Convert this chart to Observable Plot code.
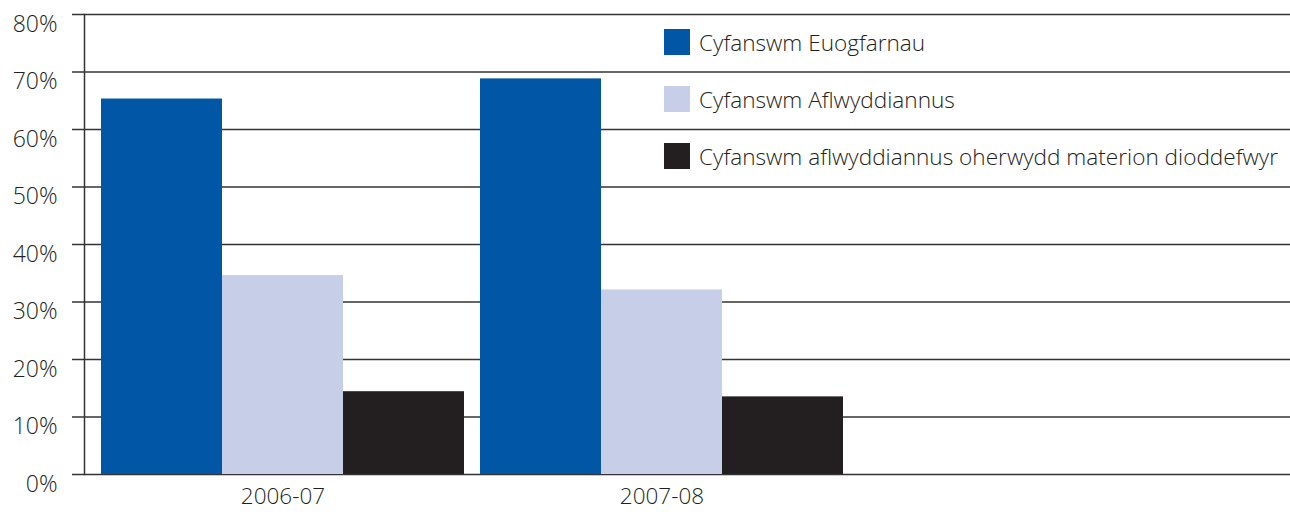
<!DOCTYPE html>
<html><head><meta charset="utf-8">
<script src="https://cdn.jsdelivr.net/npm/d3@7"></script>
<script src="https://cdn.jsdelivr.net/npm/@observablehq/plot@0.6"></script>
<style>
body{margin:0;background:#fff;font-family:"Open Sans",sans-serif;}
#wrap{position:relative;width:1290px;height:512px;overflow:hidden;}
#legend{position:absolute;left:664px;top:29px;}
.item{display:flex;align-items:center;height:26px;margin-bottom:31px;font-size:22.6px;font-weight:300;color:#231f20;white-space:nowrap;}
.sw{width:26px;height:26px;margin-right:9px;flex:none;}
svg text{font-weight:300;}
</style></head>
<body><div id="wrap"><div id="legend"></div></div>
<script>
const categories = ["2006-07", "2007-08"];
const seriesNames = [
  "Cyfanswm Euogfarnau",
  "Cyfanswm Aflwyddiannus",
  "Cyfanswm aflwyddiannus oherwydd materion dioddefwyr"
];
const euogfarnau = [65.3, 68.8];
const aflwyddiannus = [34.6, 32.1];
const dioddefwyr = [14.4, 13.5];
const colors = ["#0156a6", "#c7cfe8", "#231f20"];
const yTicks = [0, 10, 20, 30, 40, 50, 60, 70, 80];

const seriesValues = [euogfarnau, aflwyddiannus, dioddefwyr];
const data = seriesNames.flatMap((s, i) => categories.map((c, j) => ({year: c, series: s, value: seriesValues[i][j]})));

const W = 1290, H = 512, mL = 84, mT = 14, mB = 38;
const step = 379, gap = 16, outer = 17;
const band = step - gap, barW = band / 3;
const xRange = [mL, mL + outer * 2 + step * categories.length - gap];

const chart = Plot.plot({
  width: W, height: H, marginLeft: mL, marginRight: 0, marginTop: mT, marginBottom: mB,
  style: {fontFamily: "'Open Sans', sans-serif", fontSize: "22.5px", color: "#231f20", background: "transparent"},
  x: {type: "band", domain: categories, range: xRange, paddingInner: gap / step, paddingOuter: outer / step},
  y: {domain: [0, 80]},
  color: {domain: seriesNames, range: colors},
  marks: [
    Plot.ruleY(yTicks, {stroke: "#333", strokeWidth: 1.5}),
    Plot.frame({anchor: "left", stroke: "#333", strokeWidth: 1.5}),
    ...seriesNames.map((s, i) => Plot.barY(data.filter(d => d.series === s), {
      x: "year", y: "value", fill: "series", insetLeft: i * barW, insetRight: (2 - i) * barW
    })),
    Plot.axisY({ticks: yTicks, tickSize: 12, tickFormat: () => "", stroke: "#333", strokeWidth: 1.5, label: null}),
    Plot.axisY({ticks: yTicks, tickSize: 0, tickPadding: 27, dy: 10, tickFormat: d => d + "%", label: null, fill: "#231f20", fontSize: 23}),
    Plot.axisX({tickSize: 0, tickPadding: 14, label: null, fill: "#231f20"})
  ]
});
document.getElementById("wrap").prepend(chart);

const legend = document.getElementById("legend");
seriesNames.forEach((s, i) => {
  const it = document.createElement("div");
  it.className = "item";
  const sw = document.createElement("div");
  sw.className = "sw";
  sw.style.background = colors[i];
  const tx = document.createElement("span");
  tx.textContent = s;
  it.append(sw, tx);
  legend.append(it);
});
</script>
</body></html>
